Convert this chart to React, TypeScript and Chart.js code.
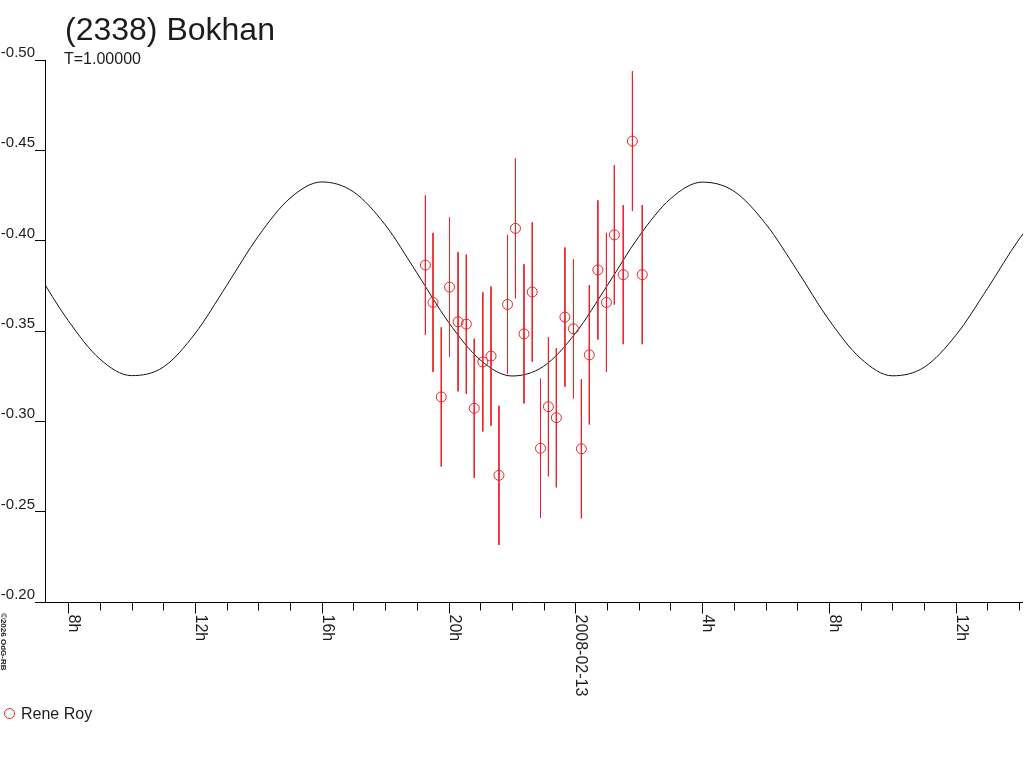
import { useEffect, useRef } from "react";
import { Chart, registerables } from "chart.js";

Chart.register(...registerables);

const TITLE = "(2338) Bokhan";
const SUBTITLE = "T=1.00000";
const OBSERVER = "Rene Roy";
const CREDIT = "©2026 OdG-RB";

// Observation times: hours since 2008-02-12 00:00 UT
const obsHours = [
  19.27, 19.51, 19.77, 20.03, 20.3, 20.56, 20.81, 21.08, 21.34, 21.59, 21.86,
  22.11, 22.38, 22.64, 22.9, 23.15, 23.4, 23.67, 23.94, 24.19, 24.44, 24.71,
  24.98, 25.23, 25.51, 25.8, 26.11,
];
// Relative magnitudes
const obsMag = [
  -0.3865, -0.3658, -0.3135, -0.3743, -0.3551, -0.3538, -0.3072, -0.3329,
  -0.3361, -0.2701, -0.3647, -0.4068, -0.3484, -0.3716, -0.2851, -0.3081,
  -0.302, -0.3577, -0.3512, -0.2848, -0.3368, -0.3838, -0.3658, -0.4032,
  -0.3812, -0.4551, -0.3812,
];
// Error bar half-lengths
const obsErr = [
  0.0385, 0.0385, 0.0385, 0.0385, 0.0385, 0.0385, 0.0385, 0.0385, 0.0385,
  0.0385, 0.0385, 0.0387, 0.0385, 0.0385, 0.0385, 0.0385, 0.0385, 0.0385,
  0.0385, 0.0385, 0.0385, 0.0385, 0.0385, 0.0385, 0.0385, 0.0387, 0.0385,
];

// Fitted light curve
const fitHours = [
  7, 8, 9, 10, 11, 12, 13, 14, 15, 16, 17, 18, 19, 20, 21, 22, 23, 24, 25, 26,
  27, 28, 29, 30, 31, 32, 33, 34, 35, 36, 37, 38, 39,
];
const fitMag = [
  -0.3832, -0.3558, -0.3345, -0.3253, -0.3300, -0.3485, -0.3752, -0.4025,
  -0.4235, -0.4325, -0.4270, -0.4088, -0.3822, -0.3548, -0.334, -0.3251,
  -0.3305, -0.3487, -0.375, -0.4022, -0.4232, -0.4324, -0.4274, -0.4094,
  -0.3834, -0.3561, -0.3348, -0.3252, -0.3299, -0.3476, -0.3735, -0.4009,
  -0.4224,
];

const yTicks = [-0.5, -0.45, -0.4, -0.35, -0.3, -0.25, -0.2];
const xTickHours = [
  8, 9, 10, 11, 12, 13, 14, 15, 16, 17, 18, 19, 20, 21, 22, 23, 24, 25, 26, 27,
  28, 29, 30, 31, 32, 33, 34, 35, 36, 37, 38,
];
const xMajorHours = [8, 12, 16, 20, 24, 28, 32, 36];
const xMajorLabels = ["8h", "12h", "16h", "20h", "2008-02-13", "4h", "8h", "12h"];

const X_MIN = 7.27;
const X_MAX = 38.12;

const RED = "rgb(234,34,42)";
const INK = "#1c1c1c";
const FONT = "'Liberation Sans', Arial, Helvetica, sans-serif";

const decorPlugin = {
  id: "decor",
  afterDraw(chart: any) {
    const ctx: CanvasRenderingContext2D = chart.ctx;
    const area = chart.chartArea;
    const xs = chart.scales.x;
    const axisY = Math.round(area.bottom) + 0.5;
    ctx.save();
    // x axis line
    ctx.strokeStyle = "#000";
    ctx.lineWidth = 1;
    ctx.beginPath();
    ctx.moveTo(36, axisY);
    ctx.lineTo(area.right, axisY);
    ctx.stroke();
    // x ticks
    xTickHours.forEach((h) => {
      const px = Math.round(xs.getPixelForValue(h)) + 0.5;
      const major = xMajorHours.indexOf(h) >= 0;
      ctx.beginPath();
      ctx.moveTo(px, axisY);
      ctx.lineTo(px, axisY + (major ? 11 : 8));
      ctx.stroke();
    });
    // x labels, rotated clockwise
    ctx.fillStyle = INK;
    ctx.font = `16px ${FONT}`;
    ctx.textAlign = "left";
    ctx.textBaseline = "alphabetic";
    xMajorHours.forEach((h, i) => {
      const px = xs.getPixelForValue(h);
      ctx.save();
      ctx.translate(px + 1, axisY + 12);
      ctx.rotate(Math.PI / 2);
      ctx.fillText(xMajorLabels[i], 0, 0);
      ctx.restore();
    });
    // title and subtitle
    ctx.font = `32px ${FONT}`;
    ctx.fillText(TITLE, 65, 40);
    ctx.font = `16px ${FONT}`;
    ctx.fillText(SUBTITLE, 64, 64);
    // legend
    ctx.strokeStyle = RED;
    ctx.beginPath();
    ctx.arc(9.5, 713.5, 5, 0, Math.PI * 2);
    ctx.stroke();
    ctx.fillStyle = INK;
    ctx.font = `16px ${FONT}`;
    ctx.fillText(OBSERVER, 21, 719);
    // credit
    ctx.save();
    ctx.translate(1, 613);
    ctx.rotate(Math.PI / 2);
    ctx.font = `bold 8px ${FONT}`;
    ctx.fillText(CREDIT, 0, 0);
    ctx.restore();
    ctx.restore();
  },
};

export default function App() {
  const ref = useRef<HTMLCanvasElement | null>(null);

  useEffect(() => {
    document.body.style.margin = "0";
    const canvas = ref.current;
    if (!canvas) return;

    const errData: any[] = [];
    obsHours.forEach((h, i) => {
      errData.push({ x: h, y: obsMag[i] - obsErr[i] });
      errData.push({ x: h, y: obsMag[i] + obsErr[i] });
      errData.push({ x: h, y: null });
    });

    const chart = new Chart(canvas, {
      type: "scatter",
      data: {
        datasets: [
          {
            type: "scatter",
            label: OBSERVER,
            data: obsHours.map((h, i) => ({ x: h, y: obsMag[i] })),
            pointStyle: "circle",
            pointRadius: 5,
            pointBorderWidth: 1,
            borderColor: RED,
            backgroundColor: "rgba(0,0,0,0)",
            pointBackgroundColor: "rgba(0,0,0,0)",
            pointBorderColor: RED,
          },
          {
            type: "line",
            label: "errors",
            data: errData,
            borderColor: RED,
            borderWidth: 1,
            pointRadius: 0,
            spanGaps: false,
            tension: 0,
            fill: false,
          },
          {
            type: "line",
            label: "fit",
            data: fitHours.map((h, i) => ({ x: h, y: fitMag[i] })),
            borderColor: "#111",
            borderWidth: 1,
            pointRadius: 0,
            cubicInterpolationMode: "monotone",
            fill: false,
          },
        ] as any,
      },
      options: {
        animation: false,
        responsive: false,
        devicePixelRatio: 1,
        events: [],
        layout: {
          autoPadding: false,
          padding: { left: 0, right: 1, top: 60, bottom: 0 },
        },
        plugins: {
          legend: { display: false },
          tooltip: { enabled: false },
          title: { display: false },
        },
        scales: {
          x: {
            type: "linear",
            min: X_MIN,
            max: X_MAX,
            afterFit: (s: any) => {
              s.height = 166;
            },
            afterBuildTicks: (s: any) => {
              s.ticks = xTickHours.map((v) => ({ value: v }));
            },
            grid: { display: false },
            border: { display: false },
            ticks: { display: false },
          },
          y: {
            type: "linear",
            min: -0.5,
            max: -0.2,
            reverse: true,
            afterFit: (s: any) => {
              s.width = 45;
            },
            afterBuildTicks: (s: any) => {
              s.ticks = yTicks.map((v) => ({ value: v }));
            },
            grid: {
              display: true,
              drawOnChartArea: false,
              drawTicks: true,
              tickLength: 10,
              color: "#000",
              tickColor: "#000",
            },
            border: { display: true, color: "#000", width: 1 },
            ticks: {
              padding: 0,
              labelOffset: -7,
              color: INK,
              font: { family: FONT, size: 15 },
              callback: (v: any) => Number(v).toFixed(2),
            },
          },
        },
      } as any,
      plugins: [decorPlugin],
    });

    return () => {
      chart.destroy();
    };
  }, []);

  return (
    <canvas
      ref={ref}
      width={1024}
      height={768}
      style={{ display: "block", width: 1024, height: 768 }}
    />
  );
}
